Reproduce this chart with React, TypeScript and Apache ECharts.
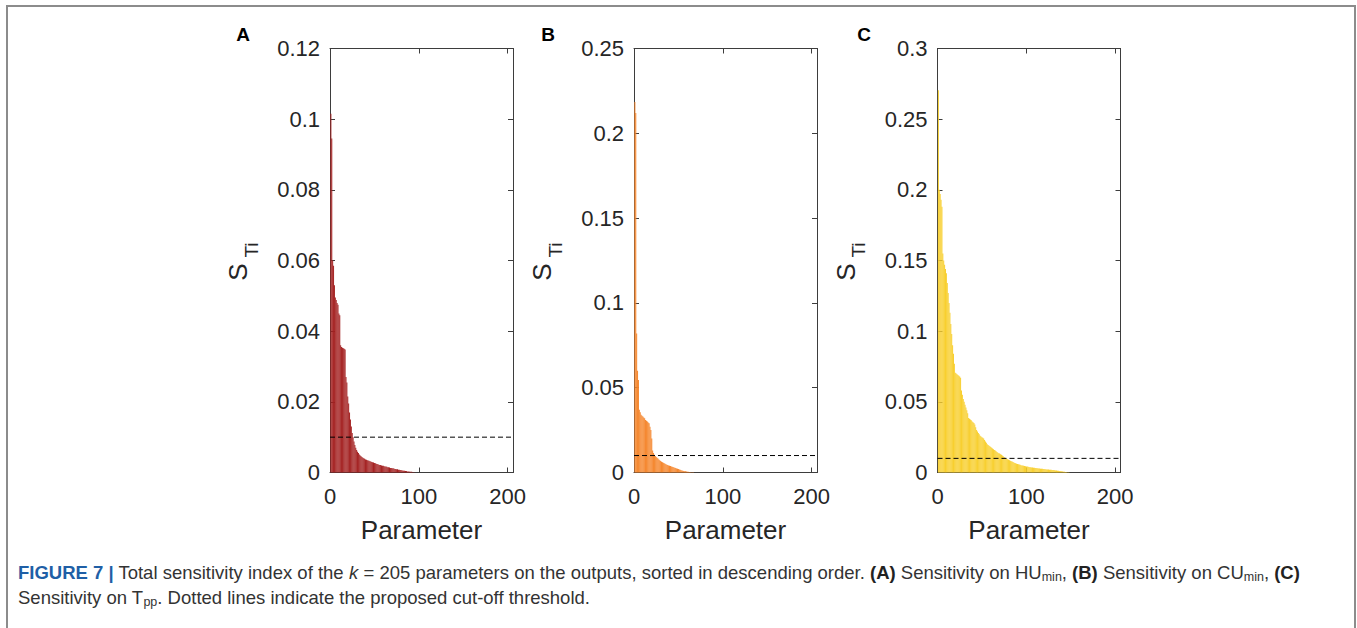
import React, { useEffect, useRef } from "react";
import * as echarts from "echarts";

// ---------------- data ----------------
const PANEL_LABELS = ["A", "B", "C"];
const AXIS_TITLE_X = "Parameter";
const X_MAX = 206;
const X_INTERVAL = 100;
const Y_MAX = [0.12, 0.25, 0.3];
const Y_INTERVAL = [0.02, 0.05, 0.05];
const THRESHOLD = 0.01;

// (A) Sensitivity on HUmin, sorted descending, k = 205
const sensitivityHU = [
  0.1015, 0.0945, 0.06, 0.0585, 0.053, 0.0495, 0.0488, 0.048, 0.0475, 0.045,
  0.0445, 0.036, 0.0355, 0.0353, 0.0352, 0.035, 0.0348, 0.027, 0.0255, 0.0215,
  0.0195, 0.017, 0.015, 0.013, 0.0112, 0.01, 0.0088, 0.0078, 0.007, 0.0064,
  0.0059, 0.0055, 0.0051, 0.0048, 0.0046, 0.0044, 0.0042, 0.004, 0.0039, 0.0037,
  0.0036, 0.0035, 0.0034, 0.0033, 0.0032, 0.0031, 0.003, 0.0029, 0.0028, 0.0027,
  0.0026, 0.0025, 0.0024, 0.0023, 0.0022, 0.0021, 0.0021, 0.002, 0.0019, 0.0019,
  0.0018, 0.0017, 0.0017, 0.0016, 0.0015, 0.0015, 0.0014, 0.0013, 0.0013, 0.0012,
  0.0012, 0.0011, 0.001, 0.001, 0.0009, 0.0009, 0.0008, 0.0008, 0.0007, 0.0007,
  0.0006, 0.0006, 0.0005, 0.0005, 0.0004, 0.0004, 0.0003, 0.0003, 0.0003, 0.0002,
  0.0002, 0.0002, 0.0001, 0.0001, 0.0001, 0, 0, 0, 0, 0,
  0, 0, 0, 0, 0, 0, 0, 0, 0, 0,
  0, 0, 0, 0, 0, 0, 0, 0, 0, 0,
  0, 0, 0, 0, 0, 0, 0, 0, 0, 0,
  0, 0, 0, 0, 0, 0, 0, 0, 0, 0,
  0, 0, 0, 0, 0, 0, 0, 0, 0, 0,
  0, 0, 0, 0, 0, 0, 0, 0, 0, 0,
  0, 0, 0, 0, 0, 0, 0, 0, 0, 0,
  0, 0, 0, 0, 0, 0, 0, 0, 0, 0,
  0, 0, 0, 0, 0, 0, 0, 0, 0, 0,
  0, 0, 0, 0, 0, 0, 0, 0, 0, 0,
  0, 0, 0, 0, 0,
];

// (B) Sensitivity on CUmin
const sensitivityCU = [
  0.2185, 0.212, 0.082, 0.06, 0.0545, 0.037, 0.0355, 0.034, 0.0335, 0.033,
  0.0325, 0.032, 0.031, 0.0305, 0.03, 0.0295, 0.029, 0.027, 0.025, 0.02,
  0.013, 0.0115, 0.0105, 0.0098, 0.0092, 0.0087, 0.0082, 0.0077, 0.0072, 0.0068,
  0.0064, 0.006, 0.0057, 0.0054, 0.0051, 0.0048, 0.0046, 0.0044, 0.0042, 0.004,
  0.0038, 0.0036, 0.0034, 0.0032, 0.003, 0.0028, 0.0026, 0.0024, 0.0022, 0.002,
  0.0018, 0.0016, 0.0014, 0.0012, 0.001, 0.0009, 0.0008, 0.0007, 0.0006, 0.0005,
  0.0004, 0.0003, 0.0003, 0.0002, 0.0002, 0.0001, 0.0001, 0, 0, 0,
  0, 0, 0, 0, 0, 0, 0, 0, 0, 0,
  0, 0, 0, 0, 0, 0, 0, 0, 0, 0,
  0, 0, 0, 0, 0, 0, 0, 0, 0, 0,
  0, 0, 0, 0, 0, 0, 0, 0, 0, 0,
  0, 0, 0, 0, 0, 0, 0, 0, 0, 0,
  0, 0, 0, 0, 0, 0, 0, 0, 0, 0,
  0, 0, 0, 0, 0, 0, 0, 0, 0, 0,
  0, 0, 0, 0, 0, 0, 0, 0, 0, 0,
  0, 0, 0, 0, 0, 0, 0, 0, 0, 0,
  0, 0, 0, 0, 0, 0, 0, 0, 0, 0,
  0, 0, 0, 0, 0, 0, 0, 0, 0, 0,
  0, 0, 0, 0, 0, 0, 0, 0, 0, 0,
  0, 0, 0, 0, 0, 0, 0, 0, 0, 0,
  0, 0, 0, 0, 0,
];

// (C) Sensitivity on Tpp
const sensitivityT = [
  0.2705, 0.2, 0.197, 0.193, 0.188, 0.155, 0.15, 0.147, 0.144, 0.141,
  0.134, 0.127, 0.12, 0.113, 0.105, 0.098, 0.09, 0.084, 0.077, 0.0705,
  0.07, 0.0695, 0.069, 0.0685, 0.068, 0.067, 0.058, 0.055, 0.052, 0.05,
  0.048, 0.046, 0.044, 0.042, 0.0385, 0.038, 0.0375, 0.037, 0.036, 0.0355,
  0.035, 0.034, 0.032, 0.03, 0.029, 0.028, 0.027, 0.026, 0.0255, 0.025,
  0.0245, 0.024, 0.023, 0.022, 0.021, 0.02, 0.0195, 0.019, 0.0185, 0.018,
  0.0175, 0.017, 0.0165, 0.016, 0.0155, 0.015, 0.0145, 0.014, 0.0137, 0.0134,
  0.013, 0.0125, 0.012, 0.0115, 0.011, 0.0105, 0.0101, 0.0098, 0.0094, 0.009,
  0.0087, 0.0083, 0.008, 0.0077, 0.0074, 0.0071, 0.0068, 0.0065, 0.0062, 0.006,
  0.0058, 0.0056, 0.0054, 0.0052, 0.005, 0.0049, 0.0047, 0.0046, 0.0044, 0.0043,
  0.0042, 0.004, 0.0039, 0.0038, 0.0037, 0.0036, 0.0035, 0.0034, 0.0033, 0.0032,
  0.0031, 0.003, 0.003, 0.0029, 0.0028, 0.0027, 0.0026, 0.0026, 0.0025, 0.0024,
  0.0023, 0.0023, 0.0022, 0.0021, 0.0021, 0.002, 0.0019, 0.0019, 0.0018, 0.0017,
  0.0017, 0.0016, 0.0015, 0.0014, 0.0013, 0.0012, 0.0011, 0.001, 0.0009, 0.0008,
  0.0007, 0.0006, 0.0005, 0.0004, 0.0003, 0.0002, 0.0001, 0.0001, 0, 0,
  0, 0, 0, 0, 0, 0, 0, 0, 0, 0,
  0, 0, 0, 0, 0, 0, 0, 0, 0, 0,
  0, 0, 0, 0, 0, 0, 0, 0, 0, 0,
  0, 0, 0, 0, 0, 0, 0, 0, 0, 0,
  0, 0, 0, 0, 0, 0, 0, 0, 0, 0,
  0, 0, 0, 0, 0,
];

const SERIES_VALUES = [sensitivityHU, sensitivityCU, sensitivityT];

const CAPTION_LINE_1 =
  "{fig|FIGURE 7 |} Total sensitivity index of the {it|k} = 205 parameters on the outputs, sorted in descending order. {b|(A)} Sensitivity on HU{sub|min}, {b|(B)} Sensitivity on CU{sub|min}, {b|(C)}";
const CAPTION_LINE_2 =
  "Sensitivity on T{sub|pp}. Dotted lines indicate the proposed cut-off threshold.";

// ---------------- layout / style ----------------
const FONT = '"Liberation Sans", Arial, Helvetica, sans-serif';
const AXIS_COLOR = "#3d3d3d";
const TEXT_COLOR = "#262626";
const BAR_COLORS = ["#A32020", "#F5852B", "#F8CF2E"];
const GRID_LEFT = [330, 634, 937.5];
const PLOT_TOP = 48.5;
const PLOT_W = 183;
const PLOT_H = 424;
const CAPTION_SIZE = 18.5;

function buildOption() {
  const grid: any[] = [];
  const xAxis: any[] = [];
  const yAxis: any[] = [];
  const series: any[] = [];
  const graphic: any[] = [];

  const tickStyle = {
    show: true,
    inside: true,
    length: 5,
    lineStyle: { color: AXIS_COLOR, width: 1 },
  };
  const lineStyle = {
    show: true,
    onZero: false,
    lineStyle: { color: AXIS_COLOR, width: 1 },
  };

  SERIES_VALUES.forEach((values, k) => {
    const left = GRID_LEFT[k];
    grid.push({ left, top: PLOT_TOP, width: PLOT_W, height: PLOT_H });

    const xBase = {
      type: "value",
      gridIndex: k,
      min: 0,
      max: X_MAX,
      interval: X_INTERVAL,
      splitLine: { show: false },
      axisLine: lineStyle,
      axisTick: tickStyle,
    };
    xAxis.push({
      ...xBase,
      position: "bottom",
      axisLabel: {
        fontSize: 22,
        color: TEXT_COLOR,
        fontFamily: FONT,
        margin: 13,
        formatter: (v: number) => (v % X_INTERVAL === 0 ? String(v) : ""),
      },
      name: AXIS_TITLE_X,
      nameLocation: "middle",
      nameGap: 44,
      nameTextStyle: { fontSize: 26, color: TEXT_COLOR, fontFamily: FONT },
    });
    xAxis.push({ ...xBase, position: "top", axisLabel: { show: false } });

    const yBase = {
      type: "value",
      gridIndex: k,
      min: 0,
      max: Y_MAX[k],
      interval: Y_INTERVAL[k],
      splitLine: { show: false },
      axisLine: lineStyle,
      axisTick: tickStyle,
    };
    yAxis.push({
      ...yBase,
      position: "left",
      axisLabel: {
        fontSize: 22,
        color: TEXT_COLOR,
        fontFamily: FONT,
        margin: 10,
      },
    });
    yAxis.push({ ...yBase, position: "right", axisLabel: { show: false } });

    series.push({
      type: "bar",
      xAxisIndex: 2 * k,
      yAxisIndex: 2 * k,
      data: values.map((v, i) => [i + 1, v]),
      barWidth: "100%",
      itemStyle: { color: BAR_COLORS[k] },
      silent: true,
    });
    series.push({
      type: "line",
      xAxisIndex: 2 * k,
      yAxisIndex: 2 * k,
      data: [
        [0, THRESHOLD],
        [X_MAX, THRESHOLD],
      ],
      symbol: "none",
      lineStyle: { color: "#000", width: 1, type: [5, 3] },
      z: 5,
      silent: true,
    });

    // y axis title S_Ti
    graphic.push({
      type: "text",
      x: left - 92,
      y: 272,
      rotation: Math.PI / 2,
      style: {
        text: "S",
        fontSize: 26,
        fontFamily: FONT,
        fill: TEXT_COLOR,
        align: "center",
        verticalAlign: "middle",
      },
    });
    graphic.push({
      type: "text",
      x: left - 79,
      y: 250,
      rotation: Math.PI / 2,
      style: {
        text: "Ti",
        fontSize: 19,
        fontFamily: FONT,
        fill: TEXT_COLOR,
        align: "center",
        verticalAlign: "middle",
      },
    });

    // panel letter
    graphic.push({
      type: "text",
      x: [243, 548, 864][k],
      y: 34,
      style: {
        text: PANEL_LABELS[k],
        fontSize: 19,
        fontWeight: "bold",
        fontFamily: FONT,
        fill: "#000",
        align: "center",
        verticalAlign: "middle",
      },
    });
  });

  // outer frame
  graphic.push({
    type: "rect",
    shape: { x: 7, y: 6, width: 1348, height: 700 },
    style: { fill: "none", stroke: "#8c8c8c", lineWidth: 2 },
    silent: true,
  });

  const captionRich = {
    fig: { fill: "#1f5fa6", fontWeight: "bold", fontSize: CAPTION_SIZE, fontFamily: FONT },
    it: { fontStyle: "italic", fontSize: CAPTION_SIZE, fontFamily: FONT, fill: "#333" },
    b: { fontWeight: "bold", fontSize: CAPTION_SIZE, fontFamily: FONT, fill: "#222" },
    sub: {
      fontSize: 12.5,
      lineHeight: 12.5,
      verticalAlign: "bottom",
      fontFamily: FONT,
      fill: "#333",
    },
  };
  [CAPTION_LINE_1, CAPTION_LINE_2].forEach((line, idx) => {
    graphic.push({
      type: "text",
      x: 18,
      y: 572 + idx * 25,
      style: {
        text: line,
        fontSize: CAPTION_SIZE,
        lineHeight: 22,
        fontFamily: FONT,
        fill: "#333",
        align: "left",
        verticalAlign: "middle",
        rich: captionRich,
      },
    });
  });

  return {
    animation: false,
    backgroundColor: "#fff",
    textStyle: { fontFamily: FONT },
    grid,
    xAxis,
    yAxis,
    series,
    graphic,
  };
}

export default function App() {
  const ref = useRef<HTMLDivElement>(null);
  useEffect(() => {
    if (!ref.current) return;
    const chart = echarts.init(ref.current, null, { renderer: "svg" });
    chart.setOption(buildOption() as any);
    return () => chart.dispose();
  }, []);
  return (
    <div
      ref={ref}
      style={{
        position: "fixed",
        left: 0,
        top: 0,
        width: 1357,
        height: 628,
        background: "#fff",
      }}
    />
  );
}
